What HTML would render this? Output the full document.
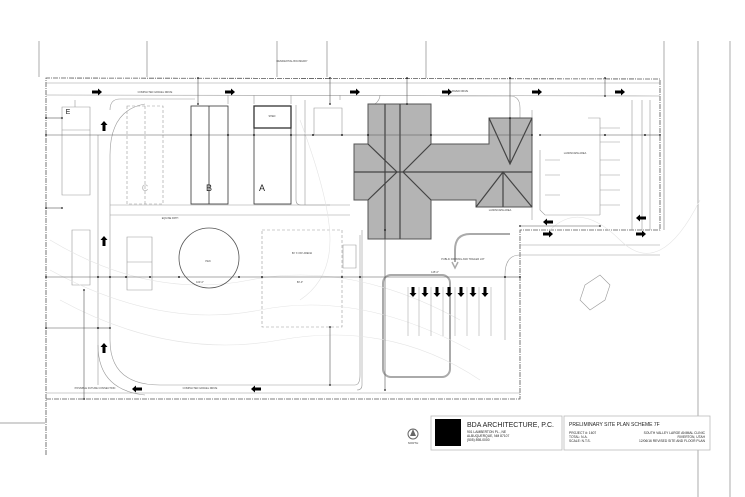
<!DOCTYPE html>
<html><head><meta charset="utf-8"><style>
html,body{margin:0;padding:0;background:#fff}
svg{display:block}
text{font-family:"Liberation Sans",sans-serif}
</style></head><body>
<svg width="745" height="497" viewBox="0 0 745 497" xmlns="http://www.w3.org/2000/svg">
<defs>
<marker id="a" viewBox="0 0 10 10" refX="5" refY="5" markerWidth="4" markerHeight="4"><rect x="2" y="2" width="6" height="6" fill="#000" transform="rotate(45 5 5)"/></marker>
<g id="ar"><rect x="-5" y="-1.5" width="6" height="3" fill="#000"/><polygon points="1,-3.5 5,0 1,3.5" fill="#000"/></g>
</defs>
<g stroke="#888" stroke-width="0.7" fill="none">
<line x1="39" y1="41" x2="39" y2="77"/><line x1="147" y1="41" x2="147" y2="77"/>
<line x1="277" y1="41" x2="277" y2="77"/><line x1="327" y1="41" x2="327" y2="77"/>
<line x1="426" y1="41" x2="426" y2="78"/><line x1="664" y1="41" x2="664" y2="230"/>
<line x1="698" y1="41" x2="698" y2="497"/><line x1="730" y1="41" x2="730" y2="497"/>
<line x1="0" y1="423" x2="45" y2="423"/>
</g>
<g stroke="#555" stroke-width="0.8" fill="none" stroke-dasharray="5,1,1,1">
<polyline points="46,455 46,78 660,79 660,230 520,230 520,399 46,399"/>
</g>
<g stroke="#999" stroke-width="0.6" fill="none">
<line x1="46" y1="83" x2="660" y2="83"/>
<line x1="46" y1="393" x2="520" y2="393"/>
<line x1="46" y1="95" x2="660" y2="96"/>
<path d="M110 110 Q110 99 120 99 L195 99"/>
<path d="M145 104 Q110 110 110 155 L110 200"/>
<path d="M98 135 L98 385"/><path d="M110 200 L110 330"/>
<path d="M110 330 L110 340 Q110 385 160 385 L355 385 Q360 385 360 375 L360 300 L360 235"/>
<path d="M98 345 Q98 390 145 395"/>
<path d="M228 104 L228 95 M254 104 L254 95 M291 104 L291 95"/>
<path d="M296 105 L296 200 Q296 205 301 205 L330 205"/>
<path d="M305 205 L305 100"/>
<path d="M110 205 L350 205 M110 215 L350 215"/>
<path d="M62 107 L90 107 L90 130 L62 130 Z"/>
<path d="M75 107 L75 100"/>
<path d="M62 130 L62 195 L90 195 L90 130"/>
<path d="M72 230 L90 230 L90 285 L72 285 Z"/>
<path d="M127 237 L152 237 L152 290 L127 290 Z M127 262 L152 262"/>
<path d="M262 230 L342 230 L342 327 L262 327 Z" stroke-dasharray="3,2"/>
<path d="M127 106 L163 106 L163 204 L127 204 Z M145 106 L145 204" stroke-dasharray="3,2"/>
<path d="M314 108 L342 108 L342 135 L314 135 Z"/>
<path d="M343 245 L356 245 L356 268 L343 268 Z"/>
<rect x="383" y="275" width="67" height="102" rx="8" stroke="#aaa" stroke-width="2"/>
<path d="M455 262 L455 250 Q455 234 470 234 L510 234" stroke="#aaa" stroke-width="2"/>
<path d="M452 262 L455 268 L458 262" stroke="#aaa" stroke-width="1.5"/>
<path d="M520 255 Q505 255 505 275 L505 340"/>
<path d="M362 230 L362 385 Q362 390 357 390"/>
<path d="M532 110 L532 220 M540 150 L540 210 L545 215 L600 215"/>
<path d="M588 118 L600 118 L600 215 M632 100 L632 230"/>
<path d="M642 100 L642 230 M650 100 L650 230"/>
<path d="M520 245 L660 245 M520 255 L660 255"/>
<path d="M340 95 L340 100 M380 95 Q380 100 375 104"/>
<path d="M440 96 L510 96 Q520 96 520 108 L520 145"/>
<path d="M600 128 L620 128 M600 142 L620 142 M600 160 L620 160 M600 175 L620 175 M600 190 L620 190 M600 205 L620 205"/>
<path d="M545 160 L560 160 M545 175 L560 175 M545 195 L560 195"/>
<path d="M585 285 L600 275 L610 285 L605 300 L590 310 L580 300 Z"/>
</g>
<g stroke="#e4e4e4" stroke-width="0.6" fill="none">
<path d="M50 240 Q150 300 250 280 T460 320"/><path d="M50 270 Q160 330 260 310 T470 350"/>
<path d="M60 300 Q170 360 280 340 T480 380"/><path d="M300 120 Q330 200 330 240 T300 300"/>
<path d="M550 230 Q580 200 620 240 T700 200"/>
</g>
<g stroke="#333" stroke-width="0.8" fill="none">
<rect x="191" y="106" width="37" height="98"/><line x1="209" y1="106" x2="209" y2="204"/>
<rect x="254" y="106" width="37" height="98"/><rect x="254" y="106" width="37" height="22" stroke-width="1.3"/>
</g>
<circle cx="209" cy="258" r="30" fill="none" stroke="#555" stroke-width="0.8"/>
<g fill="#b4b4b4" stroke="#555" stroke-width="1">
<path d="M368 104 L431 104 L431 144 L489 144 L489 118 L532 118 L532 200 L532 207 L476 207 L476 200 L431 200 L431 239 L368 239 L368 200 L354 200 L354 144 L368 144 Z"/>
</g>
<g stroke="#444" stroke-width="1.2" fill="none">
<line x1="400" y1="104" x2="400" y2="239"/><line x1="385" y1="104" x2="385" y2="239"/>
<line x1="354" y1="172" x2="532" y2="172"/>
<path d="M368 144 L397 172 L368 200 M431 144 L403 172 L431 200"/>
<path d="M489 118 L510 164 L532 118 M510 118 L510 164"/>
<path d="M476 207 L503 172 L532 207 M503 172 L503 207"/>
</g>
<g stroke="#555" stroke-width="0.6" marker-start="url(#a)" marker-end="url(#a)">
<line x1="46" y1="135" x2="191" y2="135"/><line x1="191" y1="135" x2="228" y2="135"/>
<line x1="228" y1="135" x2="254" y2="135"/><line x1="254" y1="135" x2="291" y2="135"/>
<line x1="291" y1="135" x2="313" y2="135"/><line x1="313" y1="135" x2="342" y2="135"/>
<line x1="342" y1="135" x2="368" y2="135"/><line x1="368" y1="135" x2="431" y2="135"/>
<line x1="431" y1="135" x2="532" y2="135"/><line x1="540" y1="135" x2="605" y2="135"/>
<line x1="605" y1="135" x2="645" y2="135"/><line x1="645" y1="135" x2="660" y2="135"/>
<line x1="46" y1="277" x2="98" y2="277"/><line x1="98" y1="277" x2="110" y2="277"/>
<line x1="110" y1="277" x2="126" y2="277"/><line x1="126" y1="277" x2="150" y2="277"/>
<line x1="150" y1="277" x2="179" y2="277"/><line x1="179" y1="277" x2="239" y2="277"/>
<line x1="239" y1="277" x2="262" y2="277"/><line x1="262" y1="277" x2="342" y2="277"/>
<line x1="342" y1="277" x2="360" y2="277"/><line x1="360" y1="277" x2="505" y2="277"/>
<line x1="505" y1="277" x2="520" y2="277"/>
<line x1="46" y1="328" x2="98" y2="328"/><line x1="98" y1="328" x2="110" y2="328"/>
<line x1="46" y1="208" x2="62" y2="208"/><line x1="46" y1="118" x2="62" y2="118"/>
<line x1="84" y1="290" x2="84" y2="399"/><line x1="330" y1="327" x2="330" y2="385"/>
<line x1="385" y1="230" x2="385" y2="390"/><line x1="198" y1="78" x2="198" y2="104"/>
<line x1="330" y1="78" x2="330" y2="104"/><line x1="407" y1="78" x2="407" y2="104"/>
<line x1="510" y1="78" x2="510" y2="118"/><line x1="605" y1="78" x2="605" y2="96"/>
<line x1="520" y1="226" x2="600" y2="226"/>
</g>
<g>
<use href="#ar" x="97" y="92"/><use href="#ar" x="230" y="92"/><use href="#ar" x="355" y="92"/>
<use href="#ar" x="447" y="92"/><use href="#ar" x="537" y="92"/><use href="#ar" x="620" y="92"/>
<use href="#ar" x="137" y="389" transform="rotate(180 137 389)"/><use href="#ar" x="256" y="389" transform="rotate(180 256 389)"/>
<use href="#ar" x="104" y="126" transform="rotate(-90 104 126)"/><use href="#ar" x="104" y="241" transform="rotate(-90 104 241)"/>
<use href="#ar" x="104" y="348" transform="rotate(-90 104 348)"/>
<use href="#ar" x="548" y="222" transform="rotate(180 548 222)"/><use href="#ar" x="548" y="234"/>
<use href="#ar" x="641" y="218" transform="rotate(180 641 218)"/><use href="#ar" x="641" y="234"/>
<use href="#ar" x="413" y="292" transform="rotate(90 413 292)"/><use href="#ar" x="425" y="292" transform="rotate(90 425 292)"/>
<use href="#ar" x="437" y="292" transform="rotate(90 437 292)"/><use href="#ar" x="449" y="292" transform="rotate(90 449 292)"/>
<use href="#ar" x="461" y="292" transform="rotate(90 461 292)"/><use href="#ar" x="473" y="292" transform="rotate(90 473 292)"/>
<use href="#ar" x="485" y="292" transform="rotate(90 485 292)"/>
</g>
<g stroke="#aaa" stroke-width="0.6">
<line x1="408" y1="287" x2="408" y2="336"/><line x1="419" y1="287" x2="419" y2="336"/><line x1="431" y1="287" x2="431" y2="336"/>
<line x1="443" y1="287" x2="443" y2="336"/><line x1="455" y1="287" x2="455" y2="336"/><line x1="467" y1="287" x2="467" y2="336"/>
<line x1="479" y1="287" x2="479" y2="336"/><line x1="491" y1="287" x2="491" y2="336"/>
</g>
<g font-size="9" text-anchor="middle" fill="#222">
<text x="209" y="191">B</text><text x="262" y="191">A</text><text x="145" y="191" fill="#bbb">C</text><text x="68" y="114" font-size="7">E</text>
</g>
<g font-size="2.5" text-anchor="middle" fill="#444">
<text x="155" y="93">COMPACTED GRAVEL DRIVE</text><text x="200" y="389">COMPACTED GRAVEL DRIVE</text>
<text x="95" y="389">POSSIBLE FUTURE CONNECTION</text><text x="170" y="219">EQUINE PATH</text>
<text x="463" y="260">PUBLIC PARKING AND TRAILER LOT</text><text x="575" y="154">LANDSCAPE AREA</text>
<text x="200" y="283">100'-0"</text><text x="300" y="283">80'-0"</text><text x="435" y="273">145'-0"</text>
<text x="302" y="254">80' X 150' ARENA</text><text x="208" y="262">PEN</text><text x="272" y="117">SHED</text>
<text x="500" y="211">LANDSCAPE AREA</text><text x="460" y="92">PAVED DRIVE</text>
<text x="292" y="62">RESIDENTIAL BOUNDARY</text>
</g>
<g transform="translate(413,434)"><circle r="5" fill="none" stroke="#666" stroke-width="1"/><polygon points="0,-5 -3,2 3,2" fill="#666"/><text y="10" font-size="3" text-anchor="middle" fill="#444">NORTH</text></g>
<rect x="431" y="416" width="131" height="34" fill="#fff" stroke="#bbb" stroke-width="0.8"/>
<rect x="435" y="419" width="26" height="27" fill="#000"/>
<text x="467" y="427" font-size="7" font-family="Liberation Serif" fill="#222">BDA ARCHITECTURE, P.C.</text>
<g font-family="Liberation Serif" font-size="3.3" fill="#222">
<text x="467" y="433">901 LAMBERTON PL., NE</text><text x="467" y="437">ALBUQUERQUE, NM 87107</text><text x="467" y="441">(505) 898-0000</text>
</g>
<rect x="564" y="416" width="146" height="34" fill="#fff" stroke="#bbb" stroke-width="0.8"/>
<text x="569" y="426" font-size="5" font-family="Liberation Serif" fill="#222">PRELIMINARY SITE PLAN SCHEME 7F</text>
<g font-family="Liberation Serif" font-size="3.3" fill="#222">
<text x="569" y="434">PROJECT #:  1607</text><text x="569" y="438">TOTAL:      N.A.</text><text x="569" y="442">SCALE:      N.T.S.</text>
<g text-anchor="end"><text x="705" y="434">SOUTH VALLEY LARGE ANIMAL CLINIC</text><text x="705" y="438">RIVERTON, UTAH</text><text x="705" y="442">12/06/16 REVISED SITE AND FLOOR PLAN</text></g>
</g>
</svg>
</body></html>
